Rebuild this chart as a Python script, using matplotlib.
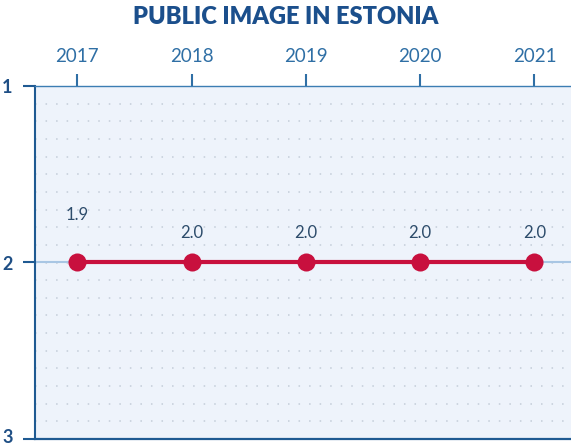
import matplotlib
matplotlib.use('Agg')
import matplotlib.pyplot as plt
import matplotlib.transforms as mtransforms
import numpy as np

# data
years = [2017, 2018, 2019, 2020, 2021]
values = [1.9, 2.0, 2.0, 2.0, 2.0]
y_ticks = [1, 2, 3]

plt.rcParams['font.family'] = ['Lato', 'DejaVu Sans']

fig = plt.figure(figsize=(5.71, 4.48), dpi=100)
ax = fig.add_axes([35 / 571, 1 - 439 / 448, 1 - 35 / 571, (439 - 86) / 448])
ax.set_facecolor('#eef3fb')

ax.set_xlim(2016.63, 2021.32)
ax.set_ylim(3, 1)

# dotted grid every 0.1
for g in np.arange(1.1, 3.0, 0.1):
    ax.axhline(g, color='#c3ccd8', lw=1.1, linestyle=(0, (1, 5.9)), zorder=1)

# light reference line at 2
ax.axhline(2, color='#a8c6e4', lw=1.5, zorder=2)

# points sit on the scale position, labels at the value
line_y = np.round(values)
ax.plot(years, line_y, color='#c8103e', lw=3, marker='o', markersize=13,
        markeredgewidth=0, zorder=3, solid_capstyle='round')
for x, v in zip(years, values):
    ax.annotate(f'{v:.1f}', (x, v), xytext=(0, 15.5), textcoords='offset points',
                ha='center', va='bottom', fontsize=12, color='#2d4c6b')

ax.xaxis.tick_top()
ax.set_xticks(years)
ax.set_xticklabels([str(y) for y in years])
ax.set_yticks(y_ticks)
ax.set_yticklabels([str(t) for t in y_ticks])
ax.tick_params(axis='x', colors='#2f6fa5', length=9, width=1.5, pad=6, labelsize=13.5, labelcolor='#2f6fa5')
ax.tick_params(axis='y', colors='#1f5a92', length=9, width=1.5, pad=7, labelsize=13, labelcolor='#1f4f85')
for lab in ax.get_yticklabels():
    lab.set_fontweight('bold')
# nudge the bottom label up a little so it stays inside the figure
last = ax.get_yticklabels()[-1]
last.set_transform(last.get_transform() + mtransforms.ScaledTranslation(0, 2 / 72, fig.dpi_scale_trans))

ax.spines['left'].set_color('#1f5a92')
ax.spines['left'].set_linewidth(1.5)
ax.spines['bottom'].set_color('#1f5a92')
ax.spines['bottom'].set_linewidth(1.6)
ax.spines['top'].set_color('#3c7db3')
ax.spines['top'].set_linewidth(1.0)
ax.spines['right'].set_visible(False)

fig.text(0.5, 1 - 17 / 448, 'PUBLIC IMAGE IN ESTONIA', ha='center', va='center',
         fontsize=17, fontweight='heavy', color='#1b4f8c')

fig.savefig('out.png', dpi=100)
